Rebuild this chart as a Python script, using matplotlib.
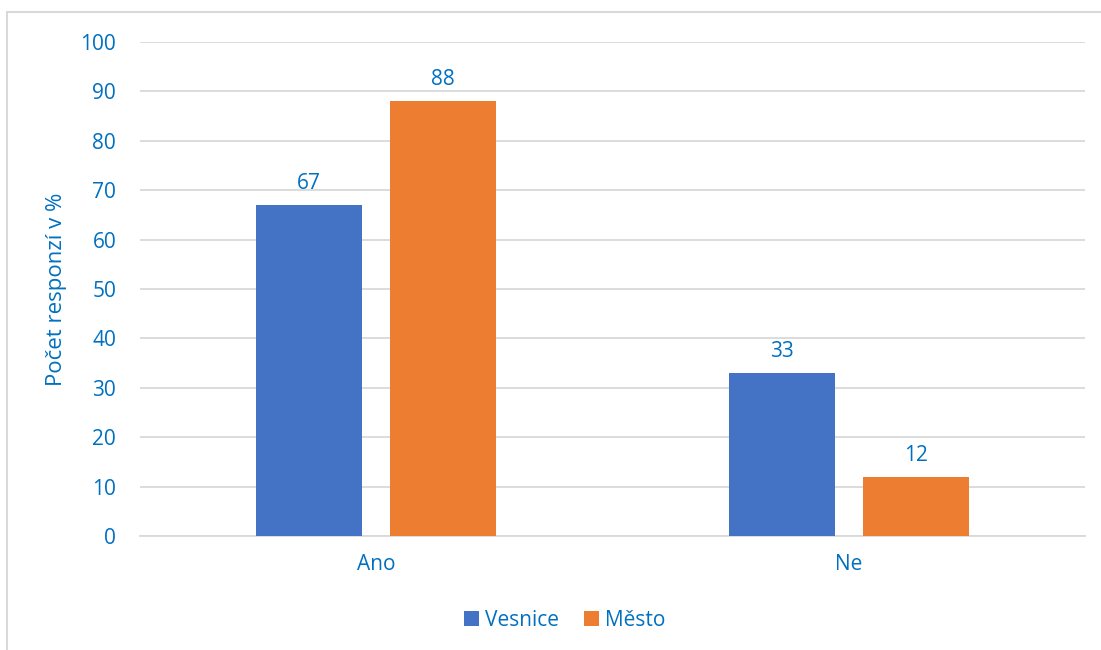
import numpy as np
import matplotlib.pyplot as plt
from matplotlib.patches import Rectangle

plt.rcParams['font.family'] = ['Open Sans', 'DejaVu Sans']

categories = ['Ano', 'Ne']
vesnice = [67, 33]
mesto = [88, 12]
series_names = ['Vesnice', 'Město']

text_color = '#0070C0'
blue = '#4472C4'
orange = '#ED7D31'
grid_color = '#D9D9D9'

fig = plt.figure(figsize=(11.01, 6.5), dpi=100)
ax = fig.add_axes([0.127, 0.1754, 0.8585, 0.76])

x = np.arange(len(categories))
w = 0.224
off = 0.142
b1 = ax.bar(x - off, vesnice, w, color=blue, label=series_names[0], zorder=3)
b2 = ax.bar(x + off, mesto, w, color=orange, label=series_names[1], zorder=3)

# popisky hodnot nad sloupci
for bars, vals in ((b1, vesnice), (b2, mesto)):
    for r, v in zip(bars, vals):
        ax.text(r.get_x() + r.get_width() / 2, v + 2.2, str(v), ha='center', va='bottom',
                color=text_color, fontsize=15)

ax.set_xlim(-0.5, 1.5)
ax.set_ylim(0, 100)
ax.set_yticks(range(0, 101, 10))
ax.set_xticks(x)
ax.set_xticklabels(categories)
ax.tick_params(axis='both', length=0, labelsize=15, labelcolor=text_color)
ax.tick_params(axis='y', pad=17)
ax.tick_params(axis='x', pad=13)
ax.grid(axis='y', color=grid_color, linewidth=1.3, zorder=0)
for s in ['top', 'right', 'left']:
    ax.spines[s].set_visible(False)
ax.spines['bottom'].set_color(grid_color)
ax.spines['bottom'].set_linewidth(1.3)

ax.set_ylabel('Počet responzí v %', color=text_color, fontsize=16, labelpad=10)

leg = fig.legend(loc='center', bbox_to_anchor=(0.513, 0.046), ncol=2, frameon=False,
                 fontsize=15, handlelength=0.7, handleheight=0.7, handletextpad=0.3,
                 columnspacing=1.2)
for t in leg.get_texts():
    t.set_color(text_color)

# rámeček grafu
fig.patches.append(Rectangle((7 / 1101, -0.05), 1.2, 638 / 650 + 0.05,
                             transform=fig.transFigure, fill=False,
                             edgecolor='#D9D9D9', linewidth=1.5))

fig.savefig('out.png', dpi=100)
